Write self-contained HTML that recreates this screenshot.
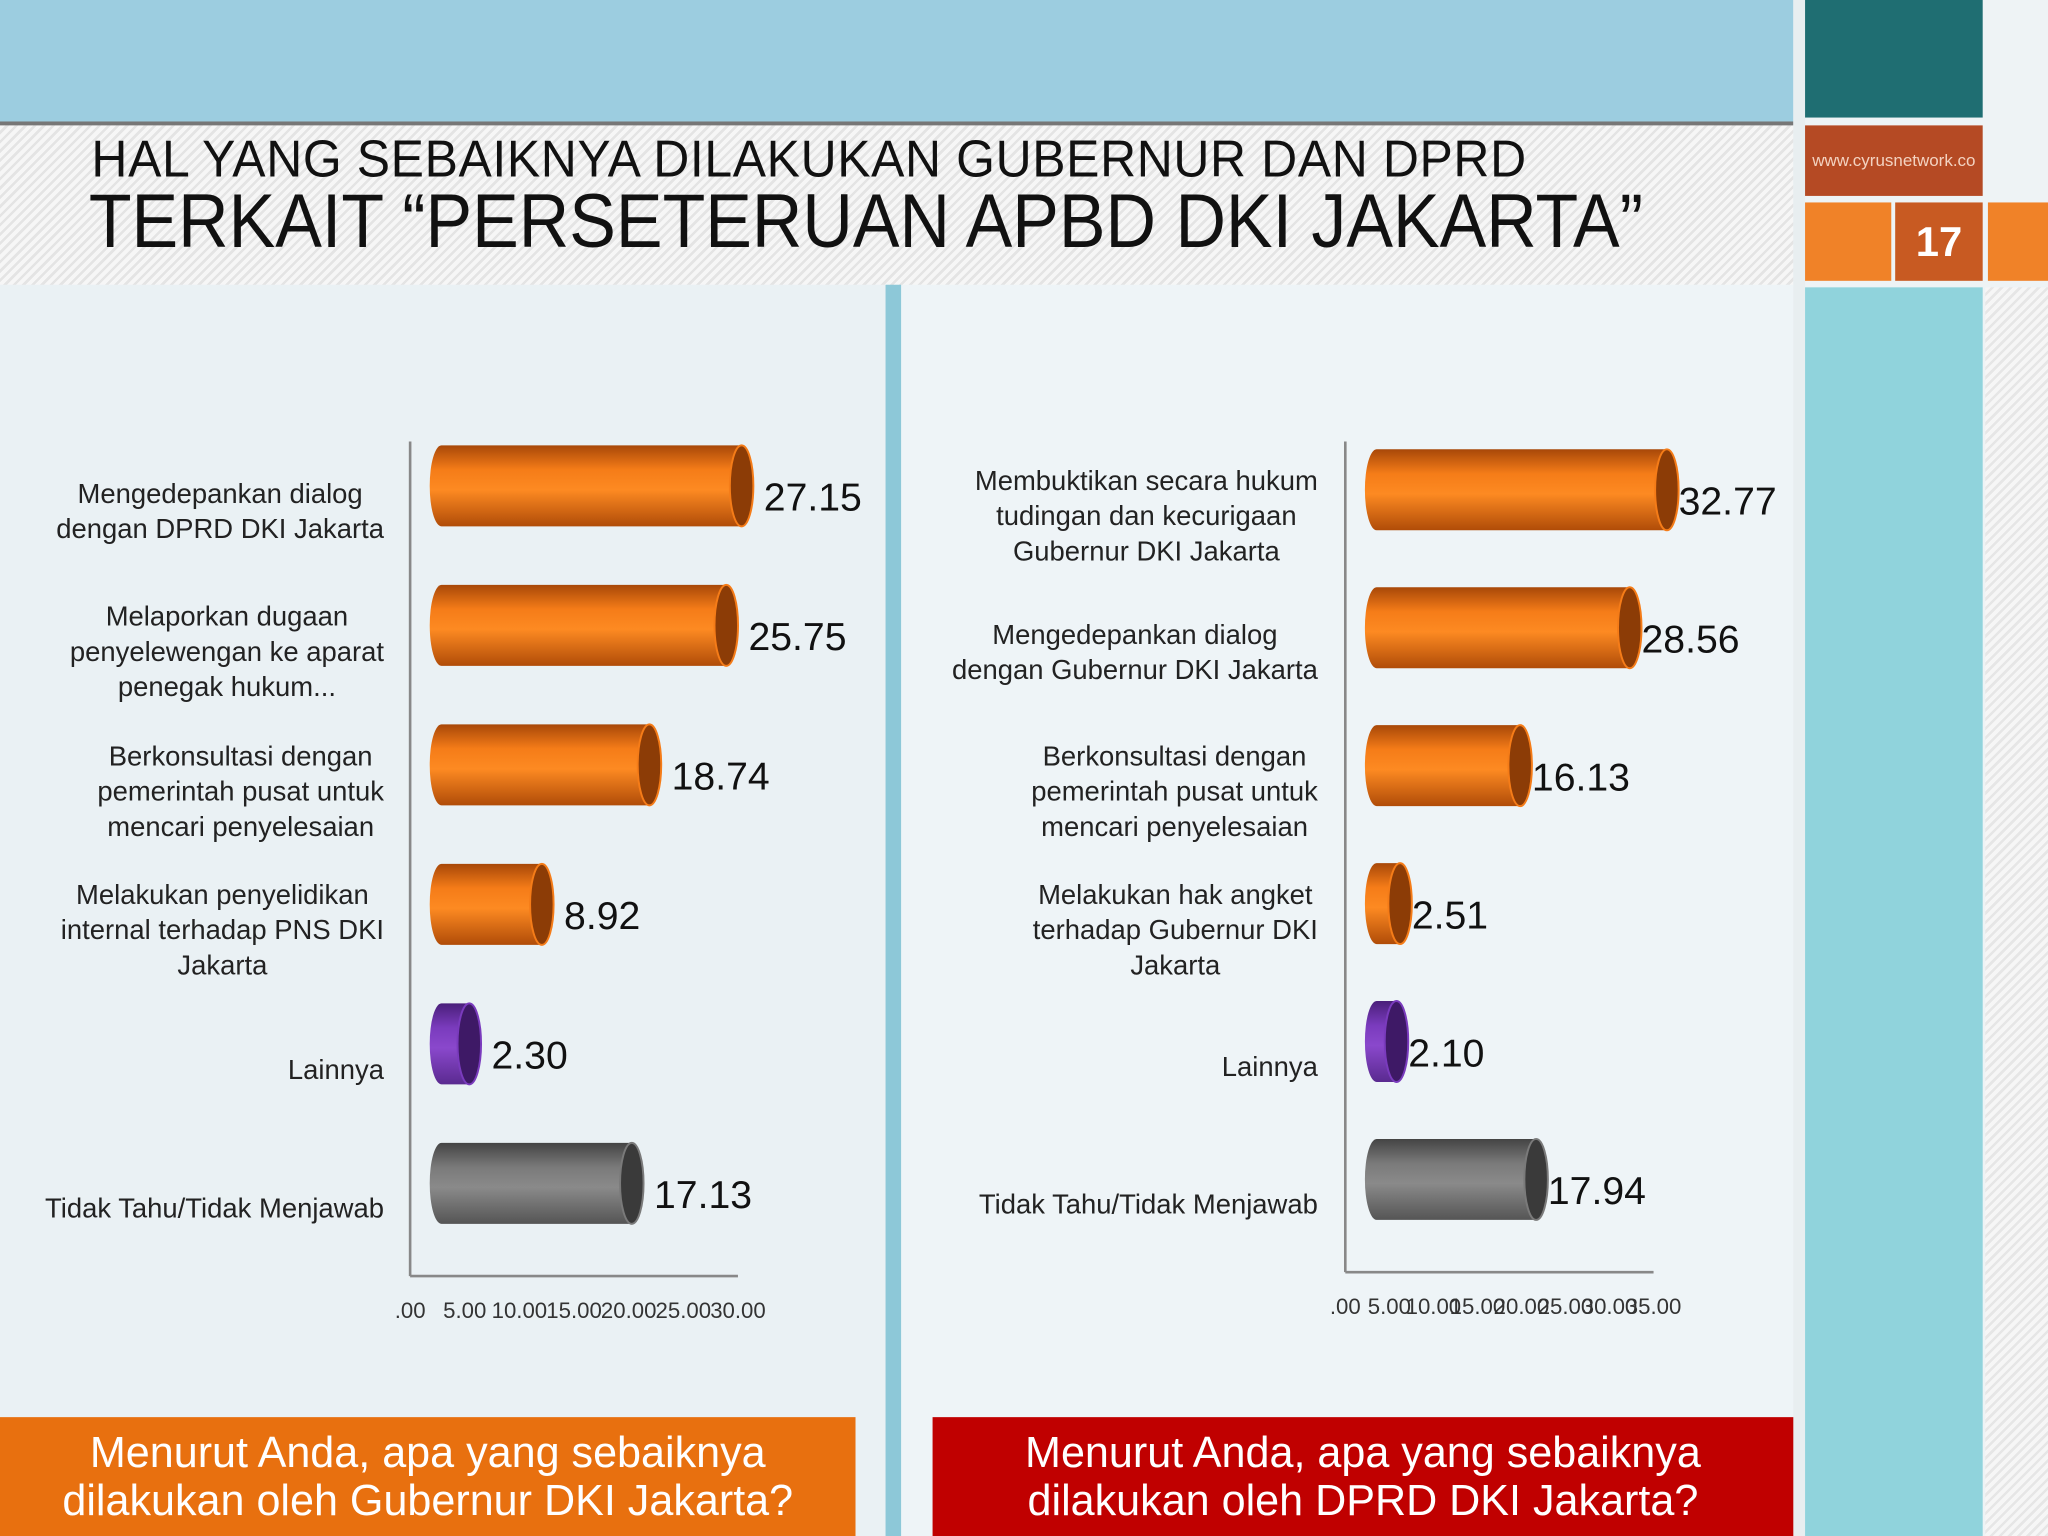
<!DOCTYPE html>
<html><head><meta charset="utf-8"><style>
html,body{margin:0;padding:0;width:2048px;height:1536px;overflow:hidden;background:#eef3f5}
#w{position:absolute;left:0;top:0;width:1568px;height:1176px;transform:scale(1.306122);transform-origin:0 0;font-family:"Liberation Sans",sans-serif}
.abs{position:absolute}
.lbl{position:absolute;text-align:center;font-size:21px;color:#222;line-height:27px}
</style></head><body>
<div id="w">
<div class="abs" style="left:0;top:0;width:1373px;height:93px;background:#9ccde0"></div>
<div class="abs" style="left:0;top:93px;width:1373px;height:123px;border-top:3px solid #777;background:repeating-linear-gradient(135deg,#f6f6f6 0 3px,#e4e4e4 3px 5px)"></div>
<div class="abs" style="left:70px;top:100px;font-size:40px;color:#111;letter-spacing:0.5px;transform:scaleX(0.955);transform-origin:0 0;white-space:nowrap">HAL YANG SEBAIKNYA DILAKUKAN GUBERNUR DAN DPRD</div>
<div class="abs" style="left:68px;top:136px;font-size:58px;color:#111;transform:scaleX(0.923);transform-origin:0 0;white-space:nowrap">TERKAIT “PERSETERUAN APBD DKI JAKARTA”</div>
<div class="abs" style="left:0;top:218px;width:678px;height:958px;background:#eaf1f4"></div>
<div class="abs" style="left:678px;top:218px;width:12px;height:958px;background:#8dc8d8"></div>
<div class="abs" style="left:690px;top:218px;width:683px;height:958px;background:#eef4f7"></div>
<div class="abs" style="left:1373px;top:0;width:9px;height:1176px;background:#e8eef0"></div>
<div class="abs" style="left:1382px;top:0;width:136px;height:90px;background:#1f6e72"></div>
<div class="abs" style="left:1382px;top:96px;width:136px;height:54px;background:#b54a24;color:#f3d2c0;font-size:13px;line-height:54px;text-align:center">www.cyrusnetwork.co</div>
<div class="abs" style="left:1382px;top:155px;width:66px;height:60px;background:#f08228"></div>
<div class="abs" style="left:1451px;top:155px;width:67px;height:60px;background:#c85a22;color:#fff;font-size:32px;font-weight:bold;line-height:60px;text-align:center">17</div>
<div class="abs" style="left:1522px;top:155px;width:46px;height:60px;background:#f08228"></div>
<div class="abs" style="left:1382px;top:220px;width:136px;height:956px;background:#90d3dc"></div>
<div class="abs" style="left:1520px;top:220px;width:48px;height:956px;background:repeating-linear-gradient(135deg,#f6f6f6 0 3px,#e6e6e6 3px 5px)"></div>

<svg class="abs" id="chart" style="left:0;top:0" width="1373" height="1176"></svg>

<div class="abs" style="left:0;top:1085px;width:655px;height:91px;background:#e8700f;color:#fff;font-size:33px;line-height:37px;text-align:center;padding-top:8px;box-sizing:border-box">Menurut Anda, apa yang sebaiknya<br>dilakukan oleh Gubernur DKI Jakarta?</div>
<div class="abs" style="left:714px;top:1085px;width:659px;height:91px;background:#c00000;color:#fff;font-size:33px;line-height:37px;text-align:center;padding-top:8px;box-sizing:border-box">Menurut Anda, apa yang sebaiknya<br>dilakukan oleh DPRD DKI Jakarta?</div>
</div>
<script>
const leftCats=["Mengedepankan dialog<br>dengan DPRD DKI Jakarta","Melaporkan dugaan<br>penyelewengan ke aparat<br>penegak hukum...","Berkonsultasi dengan<br>pemerintah pusat untuk<br>mencari penyelesaian","Melakukan penyelidikan<br>internal terhadap PNS DKI<br>Jakarta","Lainnya","Tidak Tahu/Tidak Menjawab"];
const leftVals=[27.15,25.75,18.74,8.92,2.30,17.13];
const leftTicks=[".00","5.00","10.00","15.00","20.00","25.00","30.00"];
const rightCats=["Membuktikan secara hukum<br>tudingan dan kecurigaan<br>Gubernur DKI Jakarta","Mengedepankan dialog<br>dengan Gubernur DKI Jakarta","Berkonsultasi dengan<br>pemerintah pusat untuk<br>mencari penyelesaian","Melakukan hak angket<br>terhadap Gubernur DKI<br>Jakarta","Lainnya","Tidak Tahu/Tidak Menjawab"];
const rightVals=[32.77,28.56,16.13,2.51,2.10,17.94];
const rightTicks=[".00","5.00","10.00","15.00","20.00","25.00","30.00","35.00"];
const kinds=["o","o","o","o","p","g"];
const cols={o:["#a84808","#f57c18","#fd8a22","#b04c08","#8c3c06"],p:["#4a1f7a","#7a3bbd","#8a48cc","#5a2a90","#3e1966"],g:["#444","#7a7a7a","#8a8a8a","#555","#3a3a3a"]};
const svg=document.getElementById('chart');const NS="http://www.w3.org/2000/svg";
const defs=document.createElementNS(NS,'defs');svg.appendChild(defs);
for(const k in cols){const c=cols[k];const g=document.createElementNS(NS,'linearGradient');g.id='g'+k;g.setAttribute('x1',0);g.setAttribute('y1',0);g.setAttribute('x2',0);g.setAttribute('y2',1);
[[0,c[0]],[0.3,c[1]],[0.55,c[2]],[1,c[3]]].forEach(s=>{const st=document.createElementNS(NS,'stop');st.setAttribute('offset',s[0]);st.setAttribute('stop-color',s[1]);g.appendChild(st);});defs.appendChild(g);}
function el(t,a){const e=document.createElementNS(NS,t);for(const k in a)e.setAttribute(k,a[k]);svg.appendChild(e);return e;}
function chart(cfg){
 const x=v=>cfg.x0+v*cfg.k;
 const ax=el('line',{x1:cfg.ax,y1:cfg.axTop,x2:cfg.ax,y2:cfg.axBot,stroke:'#888','stroke-width':2});
 
 const bx=el('line',{x1:cfg.ax,y1:cfg.axBot,x2:cfg.tx1,y2:cfg.axBot,stroke:'#888','stroke-width':2});
 
 cfg.ticks.forEach((t,i)=>{const tx=cfg.ax+i*(cfg.tx1-cfg.ax)/(cfg.ticks.length-1);
  const e=el('text',{x:tx,y:cfg.axBot+32,'font-size':17,'text-anchor':'middle',fill:'#333','font-family':'Liberation Sans'});e.textContent=t;
  });
 cfg.vals.forEach((v,i)=>{const cy=cfg.y0+i*cfg.dy;const h=62,rx=9;const c=cols[kinds[i]];const xs=cfg.bx,xe=x(v);
  const g=el('g',{});
  const p=document.createElementNS(NS,'path');p.setAttribute('d',`M${xs},${cy-h/2} L${xe},${cy-h/2} A${rx},${h/2} 0 0 1 ${xe},${cy+h/2} L${xs},${cy+h/2} A${rx},${h/2} 0 0 1 ${xs},${cy-h/2} Z`);p.setAttribute('fill','url(#g'+kinds[i]+')');g.appendChild(p);
  const e=document.createElementNS(NS,'ellipse');e.setAttribute('cx',xe);e.setAttribute('cy',cy);e.setAttribute('rx',rx);e.setAttribute('ry',h/2);e.setAttribute('fill',c[4]);e.setAttribute('stroke',c[1]);e.setAttribute('stroke-width',1.5);g.appendChild(e);
  const t=el('text',{x:xe+rx+(cfg.gap),y:cy+19,'font-size':30,fill:'#111','font-family':'Liberation Sans'});t.textContent=v.toFixed(2);
  
  const d=document.createElement('div');d.className='lbl';d.innerHTML=cfg.cats[i];
  
  const n=cfg.cats[i].split('<br>').length;d.style.width='300px';d.style.left=(cfg.lr-300)+'px';d.style.textAlign=n==1?'right':'center';
  d.style.top=(cfg.ly[i]-n*27/2)+'px';if(n>1){d.style.width='auto';d.style.left='auto';d.style.right=(1568-cfg.lr)+'px';}
  document.getElementById('w').appendChild(d);});
}
chart({name:'left',vals:leftVals,cats:leftCats,ticks:leftTicks,x0:340,k:8.39,bx:338,ax:314,axTop:338,axBot:977,tx1:565,y0:372,dy:106.8,gap:8,lr:294,ly:[392,499,606,712,819,925]});
chart({name:'right',vals:rightVals,cats:rightCats,ticks:rightTicks,x0:1055,k:6.75,bx:1054,ax:1030,axTop:338,axBot:974,tx1:1266,y0:375,dy:105.6,gap:0,lr:1009,ly:[395,500,606,712,817,922]});
</script>
</body></html>
